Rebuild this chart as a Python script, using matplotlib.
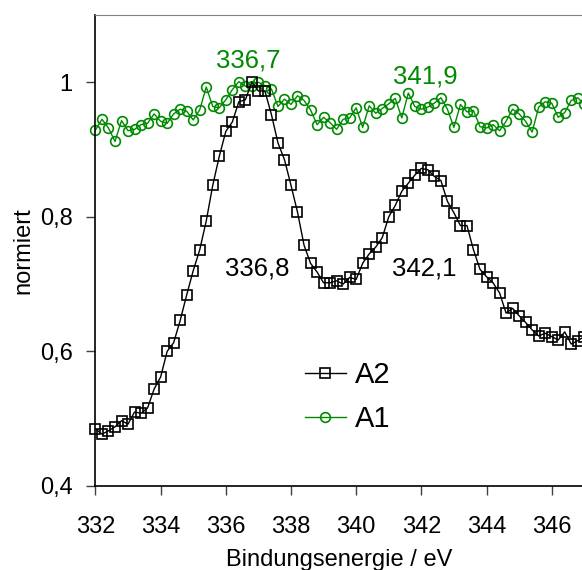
import numpy as np ; import pandas as pd ; import matplotlib
matplotlib.use('Agg')
import matplotlib.pyplot as plt ; from matplotlib.ticker import FuncFormatter

################################################### Donnees #################################################

# energie de liaison, pas de 0,2 eV
energie = [round(332.0 + 0.2*i, 1) for i in range(76)]

A2 = [0.485, 0.477, 0.482, 0.488, 0.497, 0.492, 0.510, 0.508, 0.516, 0.544,
      0.562, 0.600, 0.613, 0.646, 0.684, 0.720, 0.751, 0.794, 0.847, 0.890,
      0.927, 0.941, 0.971, 0.974, 1.000, 0.987, 0.987, 0.952, 0.910, 0.885,
      0.847, 0.807, 0.758, 0.731, 0.718, 0.702, 0.702, 0.705, 0.700, 0.710,
      0.707, 0.731, 0.745, 0.755, 0.769, 0.800, 0.817, 0.838, 0.850, 0.862,
      0.872, 0.870, 0.860, 0.854, 0.823, 0.806, 0.787, 0.787, 0.751, 0.722,
      0.711, 0.702, 0.687, 0.657, 0.664, 0.653, 0.643, 0.632, 0.623, 0.627,
      0.622, 0.617, 0.629, 0.611, 0.616, 0.622]

A1 = [0.929, 0.945, 0.932, 0.912, 0.943, 0.928, 0.930, 0.937, 0.939, 0.953,
      0.942, 0.939, 0.953, 0.960, 0.957, 0.944, 0.959, 0.993, 0.964, 0.962,
      0.974, 0.989, 1.001, 0.994, 0.995, 1.000, 0.995, 0.990, 0.964, 0.975,
      0.967, 0.980, 0.973, 0.959, 0.937, 0.948, 0.940, 0.930, 0.945, 0.947,
      0.962, 0.933, 0.965, 0.954, 0.961, 0.968, 0.976, 0.947, 0.984, 0.964,
      0.960, 0.963, 0.969, 0.977, 0.960, 0.933, 0.967, 0.956, 0.958, 0.934,
      0.932, 0.937, 0.928, 0.942, 0.960, 0.953, 0.942, 0.926, 0.963, 0.971,
      0.969, 0.948, 0.955, 0.973, 0.977, 0.967]

# positions des pics (annotations)
pics_A1 = [336.7, 341.9] ; pics_A2 = [336.8, 342.1]

spectres = pd.DataFrame({'E': energie, 'A2': A2, 'A1': A1})

################################################### Figure #################################################

plt.rcParams['font.family'] = ['Liberation Sans', 'DejaVu Sans']
vert = '#008a00'

fig = plt.figure(figsize=(5.82, 5.70), dpi=100)
ax = fig.add_axes([0.164, 0.1474, 0.836, 0.8263])

ax.plot(spectres['E'], spectres['A2'], '-', color='black', lw=1.0, marker='s', ms=7,
        mfc='none', mec='black', mew=1.2, label='A2', clip_on=False, zorder=3)
ax.plot(spectres['E'], spectres['A1'], '-', color=vert, lw=1.0, marker='o', ms=7,
        mfc='none', mec=vert, mew=1.2, label='A1', clip_on=False, zorder=2)

ax.set_xlim(332, 346.93) ; ax.set_ylim(0.4, 1.1)
ax.set_xticks(np.arange(332, 347, 2)) ; ax.set_yticks([0.4, 0.6, 0.8, 1.0])
ax.yaxis.set_major_formatter(FuncFormatter(lambda v, p: '1' if abs(v-1) < 1e-9 else ('%.1f' % v).replace('.', ',')))

ax.tick_params(direction='out', length=6.5, width=1, labelsize=17, color='#404040')
ax.tick_params(axis='x', pad=15) ; ax.tick_params(axis='y', pad=10)
ax.spines['right'].set_visible(False)
ax.spines['top'].set_color('#808080')
for s in ['left', 'bottom']: ax.spines[s].set_linewidth(1.2)

ax.set_xlabel('Bindungsenergie / eV', fontsize=17, labelpad=8)
ax.set_ylabel('normiert', fontsize=17, labelpad=4)

# valeurs des pics
ax.text(pics_A1[0], 1.032, '336,7', color=vert, fontsize=18.5, ha='center', va='center')
ax.text(pics_A1[1] + 0.23, 1.009, '341,9', color=vert, fontsize=18.5, ha='center', va='center')
ax.text(pics_A2[0] + 0.17, 0.723, '336,8', color='black', fontsize=18.5, ha='center', va='center')
ax.text(pics_A2[1], 0.723, '342,1', color='black', fontsize=18.5, ha='center', va='center')

ax.legend(loc='center left', bbox_to_anchor=(0.524, 0.3035), bbox_transform=fig.transFigure,
          frameon=False, fontsize=21, handlelength=1.4, handletextpad=0.3, labelspacing=0.55,
          borderpad=0, borderaxespad=0)

fig.savefig('out.png', dpi=100)
